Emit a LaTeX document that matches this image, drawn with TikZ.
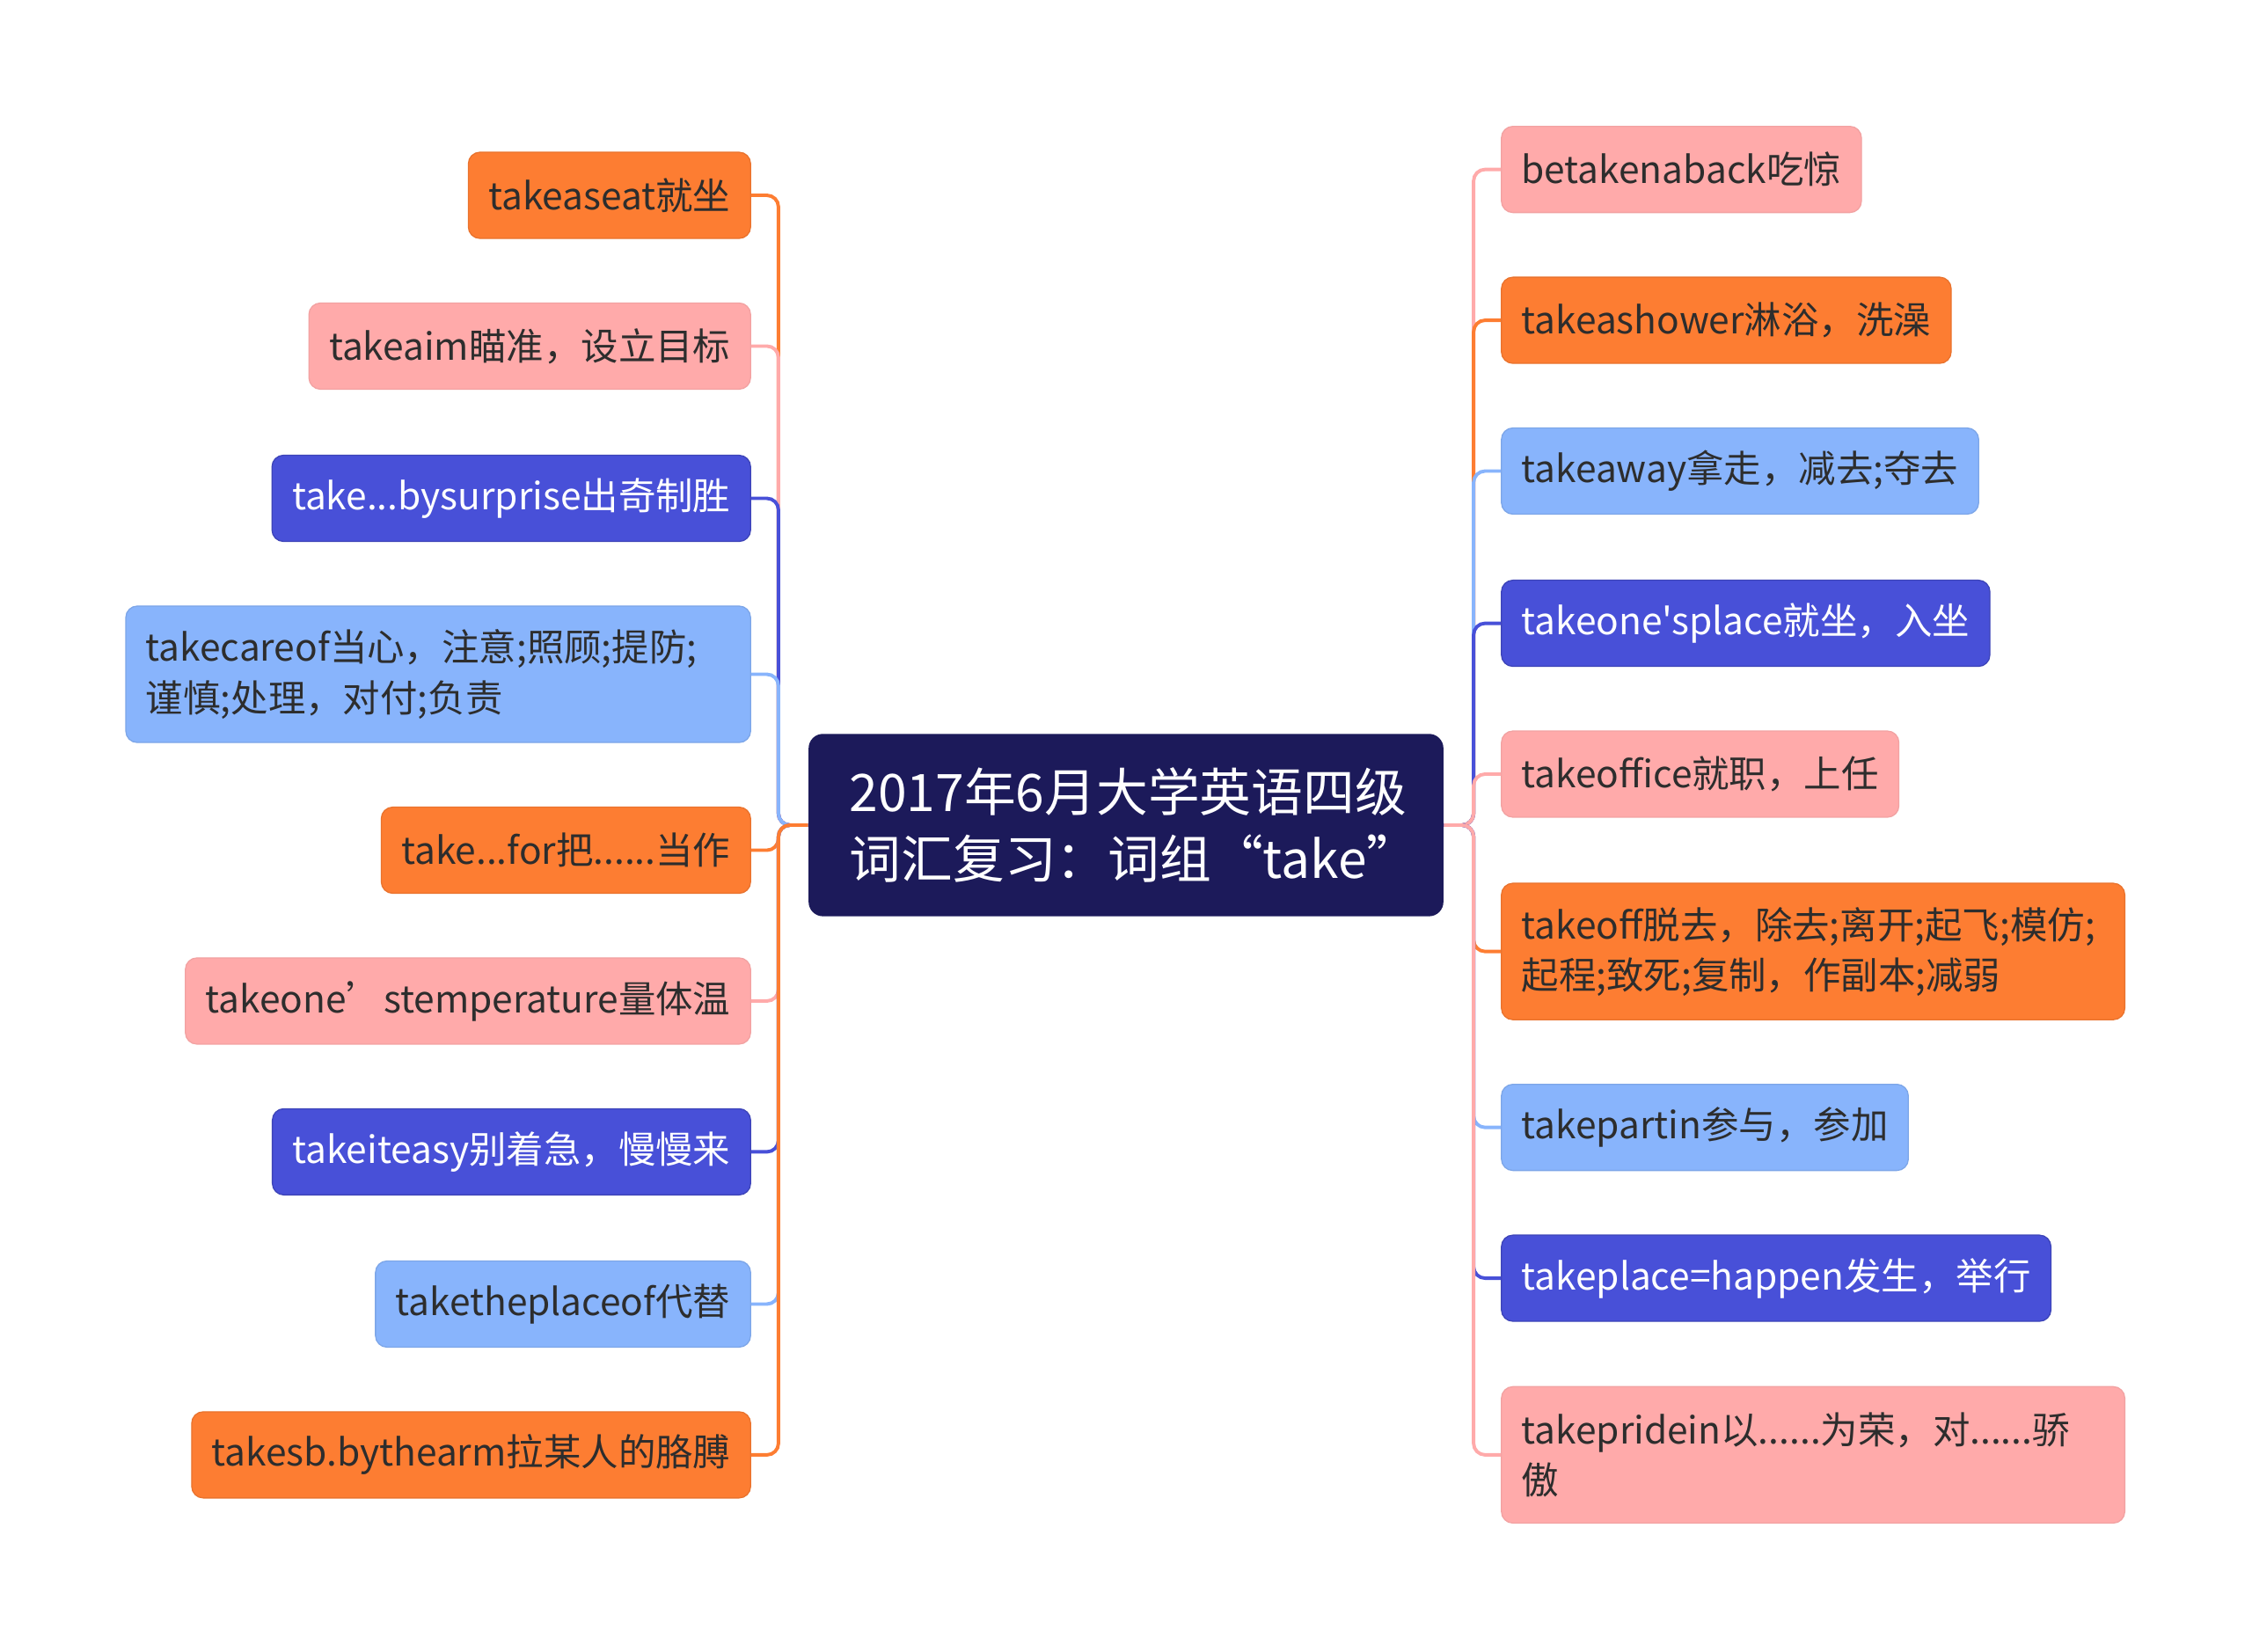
\documentclass[tikz,border=0pt]{standalone}
\usepackage{fontspec}
\usepackage{tikz}
\newfontfamily\cjkfont{Noto Sans CJK SC}

\definecolor{rootnavy}{RGB}{28,26,90}
\definecolor{orangefill}{RGB}{253,125,50}
\definecolor{pinkfill}{RGB}{255,170,170}
\definecolor{bluefill}{RGB}{136,180,252}
\definecolor{violetfill}{RGB}{72,80,216}
\definecolor{darktext}{RGB}{45,45,45}

\tikzset{
  leaf/.style={rounded corners=4pt, inner xsep=7pt, inner ysep=0pt, minimum height=30pt,
    font=\cjkfont\fontsize{13}{17.5}\selectfont, text=darktext},
  orangebox/.style={leaf, fill=orangefill, draw=orangefill!92!black, line width=0.4pt},
  pinkbox/.style={leaf, fill=pinkfill, draw=pinkfill!95!black, line width=0.4pt},
  bluebox/.style={leaf, fill=bluefill, draw=bluefill!92!black, line width=0.4pt},
  violetbox/.style={leaf, fill=violetfill, draw=violetfill!85!black, line width=0.4pt, text=white},
  twoline/.style={text width=203.5pt, align=left, minimum height=47.5pt},
  branch/.style={line width=1.2pt, rounded corners=4pt}
}

\begin{document}
\begin{tikzpicture}[x=0.5pt,y=0.5pt,yscale=-1,xscale=1]
\useasboundingbox (0,0) rectangle (1568,1150);
% Root Node
\node [fill=rootnavy, rounded corners=5pt, text=white, minimum width=221pt, minimum height=63.5pt,
  text width=192.5pt, align=left, font=\cjkfont\fontsize{18}{23.5}\selectfont] (root) at (784,574.5)
  {2017年6月大学英语四级\\词汇复习：词组“take”};
\coordinate (lt) at (542,574.5);
\coordinate (rt) at (1026,574.5);
% Left Nodes
\node [orangebox, anchor=east] (l1) at (523,136) {takeaseat就坐};
\node [pinkbox, anchor=east] (l2) at (523,241) {takeaim瞄准，设立目标};
\node [violetbox, anchor=east] (l3) at (523,347) {take...bysurprise出奇制胜};
\node [bluebox, twoline, anchor=east] (l4) at (523,469.5) {takecareof当心，注意;照顾;提防;\\谨慎;处理，对付;负责};
\node [orangebox, anchor=east] (l5) at (523,592) {take...for把......当作};
\node [pinkbox, anchor=east] (l6) at (523,697) {takeone’stemperature量体温};
\node [violetbox, anchor=east] (l7) at (523,802) {takeiteasy别着急，慢慢来};
\node [bluebox, anchor=east] (l8) at (523,908) {taketheplaceof代替};
\node [orangebox, anchor=east] (l9) at (523,1013) {takesb.bythearm拉某人的胳膊};
% Right Nodes
\node [pinkbox, anchor=west] (r1) at (1045,118) {betakenaback吃惊};
\node [orangebox, anchor=west] (r2) at (1045,223) {takeashower淋浴，洗澡};
\node [bluebox, anchor=west] (r3) at (1045,328) {takeaway拿走，减去;夺去};
\node [violetbox, anchor=west] (r4) at (1045,434) {takeone'splace就坐，入坐};
\node [pinkbox, anchor=west] (r5) at (1045,539) {takeoffice就职，上任};
\node [orangebox, twoline, text width=203pt, anchor=west] (r6) at (1045,662.5) {takeoff脱去，除去;离开;起飞;模仿;\\起程;致死;复制，作副本;减弱};
\node [bluebox, anchor=west] (r7) at (1045,785) {takepartin参与，参加};
\node [violetbox, anchor=west] (r8) at (1045,890) {takeplace=happen发生，举行};
\node [pinkbox, twoline, text width=203pt, anchor=west] (r9) at (1045,1013) {takepridein以......为荣，对......骄\\傲};
% Connections
\draw [branch, orangefill] (root.west) -- (lt) |- (l1.east);
\draw [branch, pinkfill] (root.west) -- (lt) |- (l2.east);
\draw [branch, violetfill] (root.west) -- (lt) |- (l3.east);
\draw [branch, bluefill] (root.west) -- (lt) |- (l4.east);
\draw [branch, orangefill] (root.west) -- (lt) |- (l5.east);
\draw [branch, pinkfill] (root.west) -- (lt) |- (l6.east);
\draw [branch, violetfill] (root.west) -- (lt) |- (l7.east);
\draw [branch, bluefill] (root.west) -- (lt) |- (l8.east);
\draw [branch, orangefill] (root.west) -- (lt) |- (l9.east);
\draw [branch, pinkfill] (root.east) -- (rt) |- (r1.west);
\draw [branch, orangefill] (root.east) -- (rt) |- (r2.west);
\draw [branch, bluefill] (root.east) -- (rt) |- (r3.west);
\draw [branch, violetfill] (root.east) -- (rt) |- (r4.west);
\draw [branch, pinkfill] (root.east) -- (rt) |- (r5.west);
\draw [branch, orangefill] (root.east) -- (rt) |- (r6.west);
\draw [branch, bluefill] (root.east) -- (rt) |- (r7.west);
\draw [branch, violetfill] (root.east) -- (rt) |- (r8.west);
\draw [branch, pinkfill] (root.east) -- (rt) |- (r9.west);
\end{tikzpicture}
\end{document}
